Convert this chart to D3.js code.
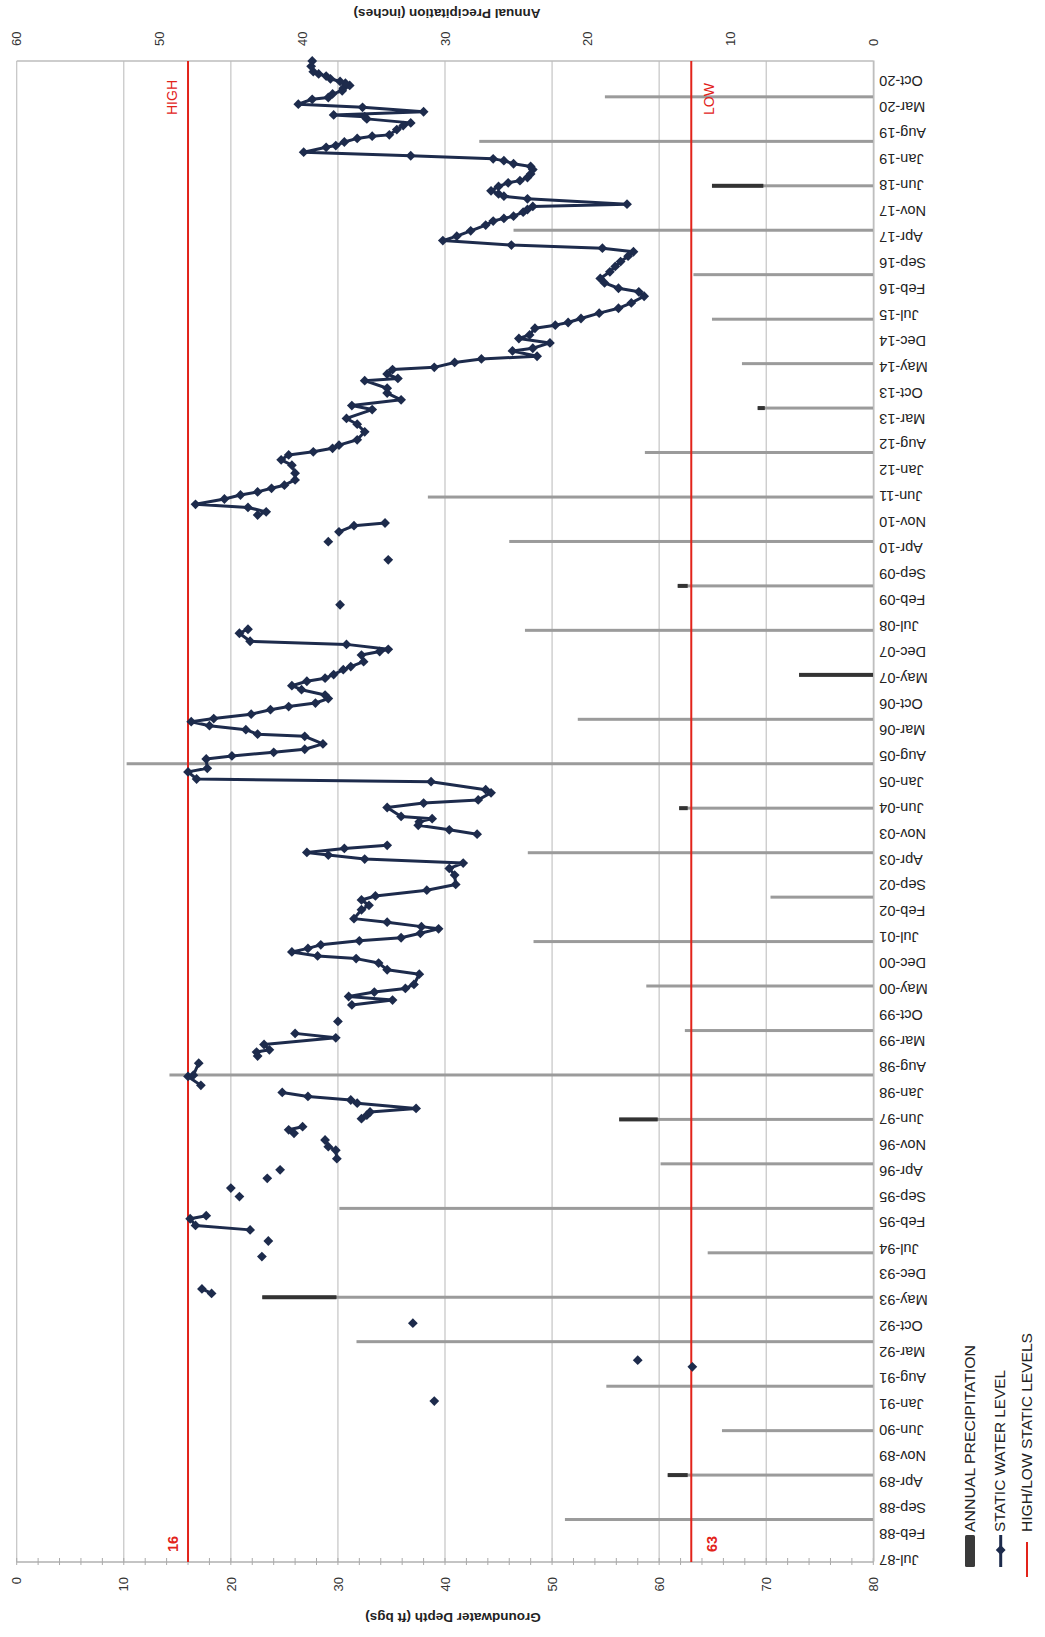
<!DOCTYPE html>
<html>
<head>
<meta charset="utf-8">
<script src="https://cdn.jsdelivr.net/npm/d3@7"></script>
<style>
  html, body { margin: 0; padding: 0; background: #fff; }
  svg { display: block; font-family: "Liberation Sans", Arial, sans-serif; }
</style>
</head>
<body>
<script>
// ---------------- DATA ----------------
const dateTickLabels = ["Jul-87","Feb-88","Sep-88","Apr-89","Nov-89","Jun-90","Jan-91","Aug-91","Mar-92","Oct-92",
  "May-93","Dec-93","Jul-94","Feb-95","Sep-95","Apr-96","Nov-96","Jun-97","Jan-98","Aug-98","Mar-99","Oct-99",
  "May-00","Dec-00","Jul-01","Feb-02","Sep-02","Apr-03","Nov-03","Jun-04","Jan-05","Aug-05","Mar-06","Oct-06",
  "May-07","Dec-07","Jul-08","Feb-09","Sep-09","Apr-10","Nov-10","Jun-11","Jan-12","Aug-12","Mar-13","Oct-13",
  "May-14","Dec-14","Jul-15","Feb-16","Sep-16","Apr-17","Nov-17","Jun-18","Jan-19","Aug-19","Mar-20","Oct-20"];

const depthTicks = [0, 10, 20, 30, 40, 50, 60, 70, 80];
const precipTicks = [0, 10, 20, 30, 40, 50, 60];

// Annual precipitation (inches), plotted each June
const precipYears = [1988,1989,1990,1991,1992,1993,1994,1995,1996,1997,1998,1999,2000,2001,2002,2003,2004,
  2005,2006,2007,2008,2009,2010,2011,2012,2013,2014,2015,2016,2017,2018,2019,2020];
const precipInches = [21.6,14.4,10.6,18.7,36.2,42.8,11.6,37.4,14.9,17.8,49.3,13.2,15.9,23.8,7.2,24.2,13.6,
  52.3,20.7,5.2,24.4,13.7,25.5,31.2,16.0,8.1,9.2,11.3,12.6,25.2,11.3,27.6,18.8];
// portion of the bar drawn darker (from this value to the bar end), as it appears in the reference
const precipDarkFrom = [null,13.0,null,null,null,37.6,null,null,null,15.1,null,null,null,null,null,null,13.0,
  null,null,0,null,13.0,null,null,null,7.6,null,null,null,null,7.7,null,null];

// Static water level: [decimal year, depth ft bgs]; null = break in line
const waterLevel = [
  [1991.08,39.0], null,
  [1991.85,63.1], null,
  [1992.00,58.0], null,
  [1992.83,37.0], null,
  [1993.50,18.2],[1993.60,17.3], null,
  [1994.33,22.9], null,
  [1994.68,23.5], null,
  [1994.93,21.8],[1995.03,16.7],[1995.18,16.2],[1995.25,17.7], null,
  [1995.68,20.8], null,
  [1995.87,20.0], null,
  [1996.09,23.4], null,
  [1996.28,24.6], null,
  [1996.53,29.9],[1996.72,29.8],[1996.80,29.1],[1996.95,28.8], null,
  [1997.10,25.9],[1997.18,25.4],[1997.25,26.7], null,
  [1997.43,32.2],[1997.51,32.7],[1997.58,33.0],[1997.66,37.3],[1997.78,31.8],[1997.85,31.2],[1997.93,27.2],[1998.02,24.8], null,
  [1998.18,17.2],[1998.38,16.0],[1998.41,16.5],[1998.68,17.0], null,
  [1998.84,22.5],[1998.93,22.4],[1998.98,23.6],[1999.10,23.1],[1999.25,29.8],[1999.35,26.0], null,
  [1999.62,30.0], null,
  [1999.99,31.3],[2000.10,35.1],[2000.18,31.0],[2000.28,33.4],[2000.36,36.3],[2000.45,37.1],[2000.68,37.6],
  [2000.78,34.6],[2000.93,33.8],[2001.03,31.7],[2001.09,28.1],[2001.18,25.7],[2001.26,27.2],[2001.34,28.4],
  [2001.43,32.0],[2001.50,35.9],[2001.60,37.7],[2001.70,39.4],[2001.75,37.8],[2001.85,34.6],[2001.93,31.5],
  [2002.13,32.2],[2002.23,32.9],[2002.35,32.2],[2002.44,33.5],[2002.57,38.3],[2002.70,41.0],[2002.91,40.9],
  [2003.06,40.4],[2003.18,41.7],[2003.27,32.5],[2003.36,29.1],[2003.42,27.1],[2003.51,30.6],[2003.58,34.6], null,
  [2003.83,43.0],[2003.93,40.4],[2004.03,37.5],[2004.11,37.6],[2004.18,38.8],[2004.23,35.9],[2004.43,34.6],
  [2004.53,38.0],[2004.60,43.1],[2004.76,44.3],[2004.83,43.8],[2005.01,38.7],[2005.07,16.8],[2005.23,16.0],
  [2005.31,17.8],[2005.52,17.7],[2005.59,20.1],[2005.67,24.0],[2005.74,26.9],[2005.86,28.6],[2006.03,26.9],
  [2006.08,22.5],[2006.18,21.4],[2006.27,18.0],[2006.36,16.3],[2006.43,18.4],[2006.53,21.9],[2006.63,23.7],
  [2006.70,25.4],[2006.78,27.9],[2006.88,29.1],[2006.96,28.8],[2007.08,26.6],[2007.17,25.7],[2007.27,27.1],
  [2007.34,28.8],[2007.42,29.6],[2007.53,30.5],[2007.60,31.2],[2007.71,32.4],[2007.86,32.2],[2007.94,33.9],
  [2007.99,34.7],[2008.10,30.8],[2008.17,21.8],[2008.35,20.8],[2008.44,21.6], null,
  [2008.99,30.2], null,
  [2010.00,34.7], null,
  [2010.41,29.1], null,
  [2010.63,30.1],[2010.77,31.5],[2010.83,34.4], null,
  [2011.01,22.5],[2011.08,23.3],[2011.18,21.6],[2011.25,16.7],[2011.37,19.4],[2011.46,20.9],[2011.53,22.5],
  [2011.61,23.8],[2011.68,25.0],[2011.80,26.0],[2011.95,26.0],[2012.13,25.7],[2012.25,24.7],[2012.36,25.4],
  [2012.43,27.7],[2012.51,29.5],[2012.58,30.1],[2012.70,31.8],[2012.88,32.5],[2013.05,31.8],[2013.18,30.8],
  [2013.38,33.2],[2013.47,31.3],[2013.60,35.9],[2013.75,34.6],[2013.86,34.6],[2014.03,32.5],[2014.08,35.6],
  [2014.18,34.6],[2014.28,35.1],[2014.33,39.0],[2014.44,40.9],[2014.52,43.4],[2014.58,48.6],[2014.70,46.3],
  [2014.76,48.2],[2014.88,49.8],[2014.98,46.9],[2015.06,47.9],[2015.21,48.4],[2015.28,50.3],[2015.34,51.5],
  [2015.43,52.7],[2015.55,54.4],[2015.66,56.2],[2015.78,57.4],[2015.93,58.6],[2016.03,58.1],[2016.11,56.2],
  [2016.23,54.9],[2016.33,54.5],[2016.48,55.4],[2016.60,55.9],[2016.71,56.4],[2016.83,57.1],[2016.93,57.6],
  [2017.01,54.7],[2017.08,46.2],[2017.18,39.8],[2017.28,41.1],[2017.40,42.4],[2017.53,43.8],[2017.62,44.5],
  [2017.68,45.5],[2017.73,46.4],[2017.82,47.3],[2017.88,47.7],[2017.95,48.2],[2018.00,57.0],[2018.12,47.7],
  [2018.18,45.5],[2018.23,45.0],[2018.30,44.3],[2018.40,45.0],[2018.48,45.9],[2018.53,47.0],[2018.60,47.7],
  [2018.68,48.0],[2018.78,48.2],[2018.85,48.0],[2018.91,46.4],[2018.98,45.5],[2019.02,44.5],[2019.09,36.8],
  [2019.17,26.8],[2019.28,28.9],[2019.32,29.8],[2019.40,30.6],[2019.48,31.8],[2019.53,33.2],[2019.56,34.8],
  [2019.68,35.5],[2019.77,36.1],[2019.83,36.8],[2019.92,32.7],[2019.97,32.5],[2020.01,29.6],[2020.08,38.0],
  [2020.18,32.3],[2020.25,26.3],[2020.36,27.6],[2020.40,29.1],[2020.48,29.5],[2020.55,30.4],[2020.61,30.5],
  [2020.67,31.1],[2020.72,30.7],[2020.76,30.2],[2020.82,29.3],[2020.88,28.9],[2020.93,28.2],[2020.98,27.7],
  [2021.10,27.5],[2021.22,27.6]
];

const highLevel = 16, lowLevel = 63;
const legendItems = ["ANNUAL PRECIPITATION", "STATIC WATER LEVEL", "HIGH/LOW STATIC LEVELS"];

// ---------------- CHART ----------------
const PAGE_W = 1045, PAGE_H = 1637;   // portrait page
const plot = {left: 75, right: 1576, top: 16.7, bottom: 873.3};  // landscape coords, rotated below

const decYear = y => { const yr = Math.floor(y); const a = new Date(yr,0,1), b = new Date(yr+1,0,1); return new Date(+a + (y-yr)*(b-a)); };
const parseTick = d3.timeParse("%b-%y");

const svg = d3.select("body").append("svg").attr("width", PAGE_W).attr("height", PAGE_H);
const g = svg.append("g").attr("transform", `translate(0,${PAGE_H}) rotate(-90)`);

const x = d3.scaleTime().domain([decYear(1987.46), decYear(2021.22)]).range([plot.left, plot.right]);
const yD = d3.scaleLinear().domain([0, 80]).range([plot.top, plot.bottom]);
const yP = d3.scaleLinear().domain([0, 60]).range([plot.bottom, plot.top]);

const gridColor = "#c4c4c4", red = "#e2231a", navy = "#1d2b4c";

// gridlines (depth)
g.append("g").selectAll("line").data(depthTicks).join("line")
  .attr("x1", plot.left).attr("x2", plot.right)
  .attr("y1", d => yD(d)).attr("y2", d => yD(d))
  .attr("stroke", gridColor).attr("stroke-width", 1.2);

// frame lines
g.append("line").attr("x1", plot.right).attr("x2", plot.right).attr("y1", plot.top).attr("y2", plot.bottom)
  .attr("stroke", "#bdbdbd").attr("stroke-width", 1.5);
g.append("line").attr("x1", plot.left).attr("x2", plot.left).attr("y1", plot.top).attr("y2", plot.bottom)
  .attr("stroke", "#b0b0b0").attr("stroke-width", 1.5);

// minor ticks on depth axis
g.append("g").selectAll("line").data(d3.range(0, 81, 2)).join("line")
  .attr("x1", plot.left - 3).attr("x2", plot.left + 4)
  .attr("y1", d => yD(d)).attr("y2", d => yD(d))
  .attr("stroke", "#aaaaaa").attr("stroke-width", 1);

// precipitation bars
const bars = precipYears.map((yr, i) => ({date: new Date(yr, 5, 1), v: precipInches[i], dark: precipDarkFrom[i]}));
g.append("g").selectAll("rect").data(bars).join("rect")
  .attr("x", d => x(d.date) - 1.5).attr("width", 3)
  .attr("y", d => yP(d.v)).attr("height", d => yP(0) - yP(d.v))
  .attr("fill", "#9b9b9b");
g.append("g").selectAll("rect").data(bars.filter(d => d.dark !== null)).join("rect")
  .attr("x", d => x(d.date) - 2).attr("width", 4)
  .attr("y", d => yP(d.v)).attr("height", d => yP(d.dark) - yP(d.v))
  .attr("fill", "#333333");

// date axis (bottom of landscape chart)
const dateAxis = d3.axisBottom(x).tickValues(dateTickLabels.map(parseTick))
  .tickFormat(d3.timeFormat("%b-%y")).tickSize(0);
const gx = g.append("g").attr("transform", `translate(0,${plot.bottom})`).call(dateAxis);
gx.select(".domain").attr("stroke", "#bdbdbd").attr("stroke-width", 1.5);
gx.selectAll("text")
  .attr("transform", "rotate(-90)").attr("text-anchor", "end")
  .attr("x", -6).attr("y", 0).attr("dy", "0.35em")
  .attr("font-size", 14.5).attr("fill", "#222");

// depth axis (left)
const gyD = g.append("g").attr("transform", `translate(${plot.left},0)`)
  .call(d3.axisLeft(yD).tickValues(depthTicks).tickSize(0).tickPadding(15));
gyD.select(".domain").remove();
gyD.selectAll("text").attr("font-size", 13).attr("fill", "#333");

// precipitation axis (right)
const gyP = g.append("g").attr("transform", `translate(${plot.right},0)`)
  .call(d3.axisRight(yP).tickValues(precipTicks).tickSize(0).tickPadding(15));
gyP.select(".domain").remove();
gyP.selectAll("text").attr("font-size", 13).attr("fill", "#333");

// axis titles
g.append("text").attr("transform", `translate(19,453) rotate(-90)`).attr("dy", "0.35em")
  .attr("text-anchor", "middle").attr("font-size", 13.5).attr("font-weight", "bold").attr("fill", "#222")
  .text("Groundwater Depth (ft bgs)");
g.append("text").attr("transform", `translate(1623,447) rotate(-90)`).attr("dy", "0.35em")
  .attr("text-anchor", "middle").attr("font-size", 13.5).attr("font-weight", "bold").attr("fill", "#222")
  .text("Annual Precipitation (inches)");

// high / low lines
[highLevel, lowLevel].forEach(v => {
  g.append("line").attr("x1", plot.left).attr("x2", plot.right)
    .attr("y1", yD(v)).attr("y2", yD(v)).attr("stroke", red).attr("stroke-width", 2);
});
g.append("text").attr("x", 1522).attr("y", yD(highLevel) - 11).attr("font-size", 14).attr("fill", red).text("HIGH");
g.append("text").attr("x", 1522).attr("y", yD(lowLevel) + 23).attr("font-size", 14).attr("fill", red).text("LOW");
g.append("text").attr("x", 85).attr("y", yD(highLevel) - 10).attr("font-size", 14.5).attr("font-weight", "bold").attr("fill", red).text(String(highLevel));
g.append("text").attr("x", 85).attr("y", yD(lowLevel) + 26).attr("font-size", 14.5).attr("font-weight", "bold").attr("fill", red).text(String(lowLevel));

// static water level line
const pts = waterLevel.map(d => d ? {date: decYear(d[0]), depth: d[1]} : null);
const line = d3.line().defined(d => d !== null).x(d => x(d.date)).y(d => yD(d.depth));
g.append("path").datum(pts).attr("d", line).attr("fill", "none")
  .attr("stroke", navy).attr("stroke-width", 3).attr("stroke-linejoin", "round");
const diamond = d3.symbol().type(d3.symbolSquare).size(48);
g.append("g").selectAll("path").data(pts.filter(d => d)).join("path")
  .attr("d", diamond)
  .attr("transform", d => `translate(${x(d.date)},${yD(d.depth)}) rotate(45)`)
  .attr("fill", navy);

// legend
const lg = g.append("g");
lg.append("rect").attr("x", 70).attr("y", 965).attr("width", 32).attr("height", 10).attr("rx", 1.5).attr("fill", "#3a3a3a");
lg.append("line").attr("x1", 70).attr("x2", 102).attr("y1", 1000.7).attr("y2", 1000.7).attr("stroke", navy).attr("stroke-width", 3);
lg.append("path").attr("d", diamond).attr("transform", "translate(87,1000.7) rotate(45)").attr("fill", navy);
lg.append("line").attr("x1", 60).attr("x2", 95).attr("y1", 1027).attr("y2", 1027).attr("stroke", red).attr("stroke-width", 2);
const legY = [970, 1000, 1027], legLen = [187, 162, 199];
lg.selectAll("text").data(legendItems).join("text")
  .attr("x", 105).attr("y", (d, i) => legY[i]).attr("dy", "0.35em")
  .attr("font-size", 14.5).attr("fill", "#222")
  .attr("textLength", (d, i) => legLen[i]).attr("lengthAdjust", "spacingAndGlyphs")
  .text(d => d);
</script>
</body>
</html>
